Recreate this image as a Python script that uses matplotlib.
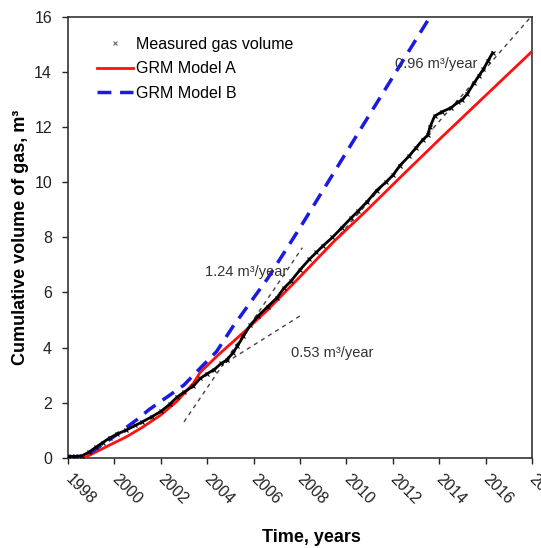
import numpy as np
import matplotlib
matplotlib.use("Agg")
import matplotlib.pyplot as plt
from matplotlib.lines import Line2D
from matplotlib.transforms import ScaledTranslation

plt.rcParams['font.family'] = ['Liberation Sans', 'DejaVu Sans']

# measured cumulative gas volume
meas_year = [1998.0, 1998.3, 1998.6, 1998.9, 1999.2, 1999.5, 1999.8, 2000.1, 2000.5, 2000.9,
             2001.2, 2001.6, 2002.0, 2002.4, 2002.7, 2003.0, 2003.4, 2003.7, 2004.0, 2004.3,
             2004.6, 2004.85, 2005.1, 2005.3, 2005.55, 2005.85, 2006.2, 2006.6, 2007.0, 2007.3,
             2007.6, 2008.0, 2008.4, 2008.7, 2009.0, 2009.4, 2009.8, 2010.2, 2010.5, 2010.9,
             2011.3, 2011.7, 2012.0, 2012.3, 2012.7, 2013.0, 2013.3, 2013.5, 2013.6, 2013.8,
             2014.1, 2014.5, 2014.8, 2015.0, 2015.2, 2015.5, 2015.7, 2015.9, 2016.1, 2016.3]
meas_vol = [0.05, 0.05, 0.07, 0.2, 0.38, 0.55, 0.72, 0.85, 1.0, 1.17,
            1.3, 1.48, 1.68, 1.95, 2.2, 2.38, 2.6, 2.88, 3.05, 3.2,
            3.42, 3.55, 3.8, 4.05, 4.4, 4.8, 5.15, 5.48, 5.8, 6.15,
            6.4, 6.82, 7.2, 7.45, 7.7, 8.0, 8.35, 8.7, 8.95, 9.3,
            9.7, 10.0, 10.25, 10.6, 10.95, 11.25, 11.55, 11.7, 12.0, 12.4,
            12.55, 12.7, 12.9, 13.0, 13.2, 13.6, 13.85, 14.1, 14.4, 14.7]

# GRM model A
a_year = [1998.0, 1998.7, 1999.0, 1999.8, 2000.5, 2001.2, 2002.0, 2002.7, 2003.4, 2003.7,
          2004.5, 2005.5, 2006.6, 2008.0, 2009.4, 2010.9, 2012.3, 2014.0, 2016.0, 2018.0]
a_vol = [0.0, 0.0, 0.12, 0.46, 0.75, 1.1, 1.55, 2.05, 2.7, 3.1,
         3.75, 4.5, 5.36, 6.57, 7.8, 9.0, 10.16, 11.55, 13.15, 14.75]

# GRM model B
b_year = [1998.0, 1998.5, 1999.0, 2000.0, 2001.0, 2001.5, 2002.4, 2003.0, 2003.7, 2004.4,
          2005.1, 2006.6, 2008.0, 2010.7, 2013.6]
b_vol = [0.0, 0.0, 0.2, 0.78, 1.4, 1.75, 2.28, 2.64, 3.25, 3.85,
         4.75, 6.5, 8.35, 12.05, 16.0]

# trend lines: slope, x range, anchor point, label position
trend_rates = [1.24, 0.53, 0.96]
trend_x = [[2003.0, 2008.1], [2004.8, 2008.1], [2009.0, 2018.0]]
trend_anchor = [(2003.0, 1.3), (2004.8, 3.45), (2018.0, 16.05)]
trend_text_pos = [(2003.9, 6.75), (2007.6, 3.8), (2012.1, 14.3)]

fig = plt.figure(figsize=(5.41, 5.48), dpi=100)
ax = fig.add_axes([0.1257, 0.1648, 0.8577, 0.8042])

for rate, xs, (x0, y0), (tx, ty) in zip(trend_rates, trend_x, trend_anchor, trend_text_pos):
    xs = np.array(xs)
    ax.plot(xs, y0 + rate * (xs - x0), color='#444444', lw=1.0, ls=(0, (3, 3)), zorder=2)
    ax.text(tx, ty, '%.2f m³/year' % rate, fontsize=10.5, color='#333333',
            ha='left', va='center', zorder=6)

ax.plot(a_year, a_vol, color='#ff1010', lw=2.0, zorder=3)
ax.plot(b_year, b_vol, color='#1a1ae0', lw=2.5, ls=(0, (4, 2.5)), zorder=3)
ax.plot(meas_year, meas_vol, color='black', lw=2.0, marker='x', ms=3, mew=0.8, zorder=4)

handles = [Line2D([], [], ls='none', marker='x', ms=3.5, mew=0.8, color='#666666'),
           Line2D([], [], color='#ff1010', lw=2.0),
           Line2D([], [], color='#1a1ae0', lw=2.5, ls=(0, (4, 2.5)))]
ax.legend(handles, ['Measured gas volume', 'GRM Model A', 'GRM Model B'],
          loc='upper left', bbox_to_anchor=(0.062, 0.955), borderaxespad=0, borderpad=0,
          frameon=False, fontsize=11.5, handlelength=2.25, handletextpad=0.2,
          labelspacing=0.6)

ax.set_xlim(1998, 2018)
ax.set_ylim(0, 16)
ax.set_xticks(np.arange(1998, 2019, 2))
ax.set_xticklabels([str(y) for y in range(1998, 2019, 2)], rotation=-45,
                   ha='left', va='top', rotation_mode='anchor')
ax.set_yticks(np.arange(0, 17, 2))
ax.tick_params(labelsize=11.5, length=4, width=1, colors='#222222')
ax.tick_params(axis='y', pad=7.5)
shift = ScaledTranslation(0.05, -0.03, fig.dpi_scale_trans)
for lab in ax.get_xticklabels():
    lab.set_transform(lab.get_transform() + shift)
for s in ax.spines.values():
    s.set_linewidth(1.2)
    s.set_color('#333333')

ax.set_xlabel('Time, years', fontsize=13, fontweight='bold')
ax.xaxis.set_label_coords(0.525, -0.162)
ax.set_ylabel('Cumulative volume of gas, m³', fontsize=13, fontweight='bold')
ax.yaxis.set_label_coords(-0.085, 0.5)

fig.savefig('out.png', dpi=100)
